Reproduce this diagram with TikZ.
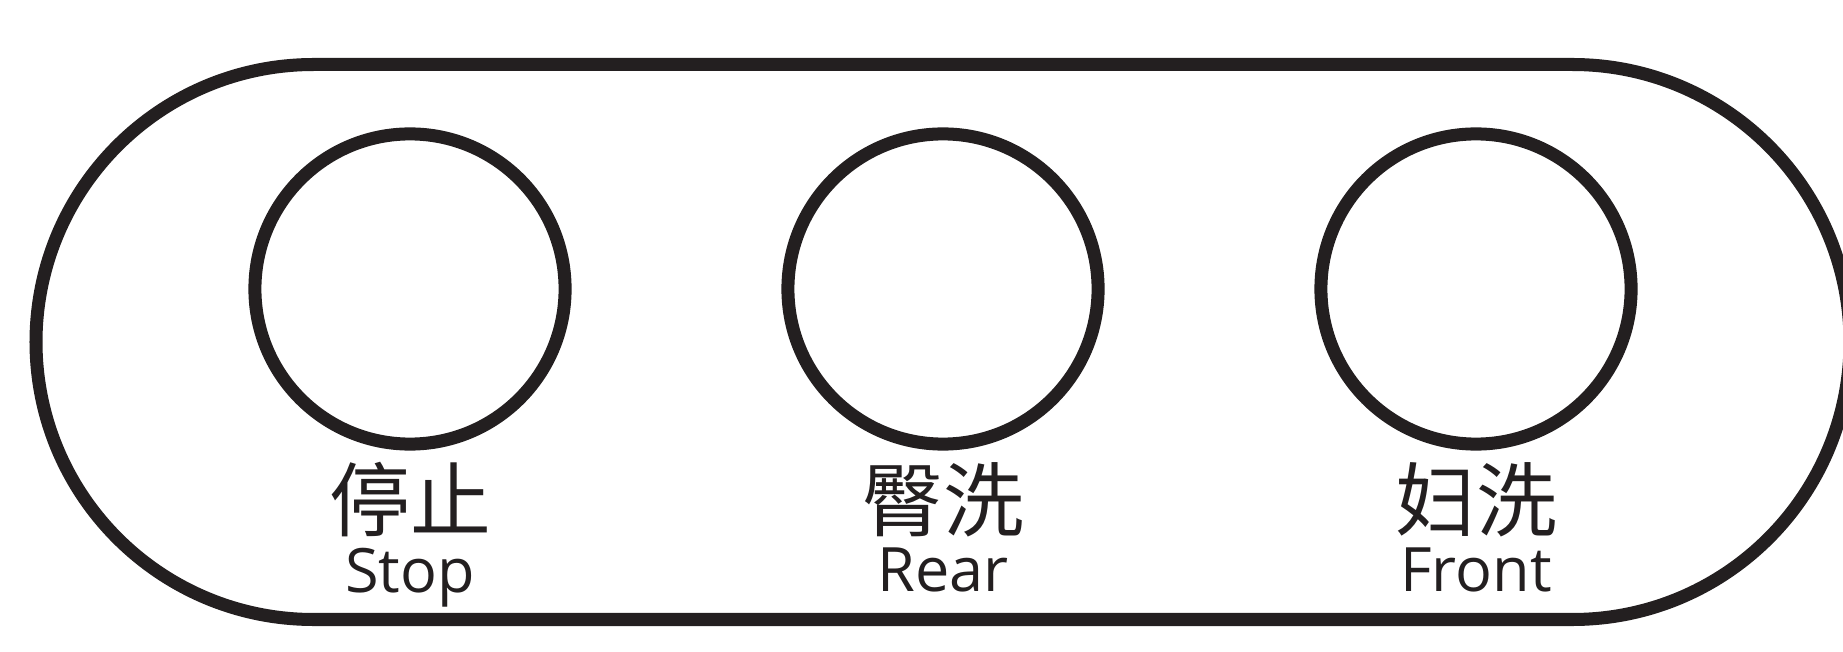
\documentclass[tikz,border=0pt]{standalone}
\usepackage{fontspec}
\setsansfont{Open Sans}
\newfontfamily\cjkfont{Noto Sans CJK SC}
\usetikzlibrary{positioning}
\definecolor{ink}{HTML}{231F20}

\begin{document}
\begin{tikzpicture}[
  x=0.01cm, y=-0.01cm,
  node distance=0.1cm,
  panel/.style={draw=ink, line width=3.7pt, rounded corners=2.775cm},
  button/.style={
    draw=ink, line width=3.7pt, circle,
    minimum size=3.1cm, inner sep=0pt
  },
  cnlabel/.style={text=ink, inner sep=0pt, font=\cjkfont\fontsize{23pt}{24pt}\selectfont},
  enlabel/.style={text=ink, inner sep=0pt, font=\sffamily\fontsize{17.4pt}{18pt}\selectfont}
]
\useasboundingbox (0,0) rectangle (1843,652);
\clip (0,0) rectangle (1843,652);

% outer panel
\draw[panel] (36,64.5) rectangle (1850,619.5);

% buttons
\node[button] (stop) at (410,289) {};
\node[button] (rear) at (943,289) {};
\node[button] (front) at (1476,289) {};

% labels
\node[cnlabel, below=0.11cm of stop] (stopcn) {停止};
\node[enlabel, below=of stopcn] (stopen) {Stop};
\node[cnlabel, below=0.11cm of rear] (rearcn) {臀洗};
\node[enlabel, below=of rearcn] (rearen) {Rear};
\node[cnlabel, below=0.11cm of front] (frontcn) {妇洗};
\node[enlabel, below=of frontcn] (fronten) {Front};

\end{tikzpicture}
\end{document}
